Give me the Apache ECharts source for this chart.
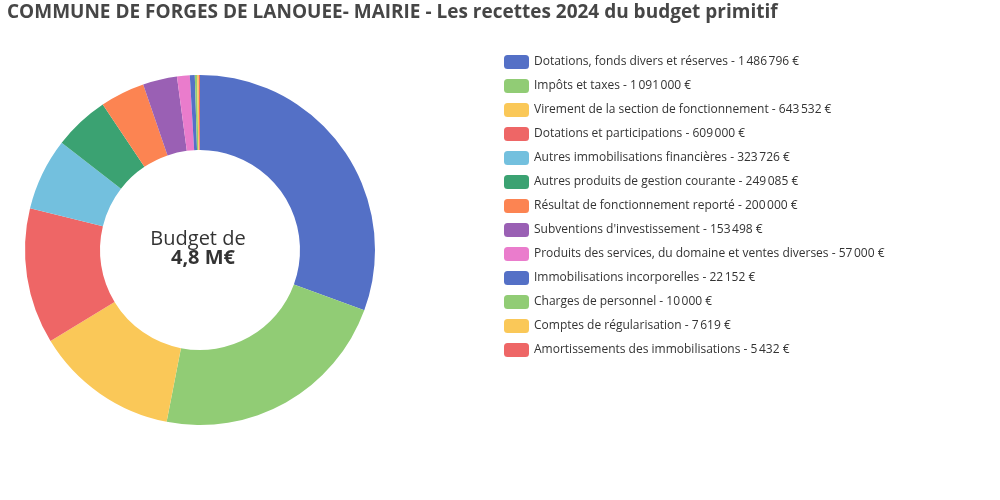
<!DOCTYPE html>
<html>
<head>
<meta charset="utf-8">
<script src="https://cdn.jsdelivr.net/npm/echarts@6/dist/echarts.min.js"></script>
<style>
  html, body { margin: 0; padding: 0; background: #fff; }
  #chart { width: 1000px; height: 500px; }
</style>
</head>
<body>
<div id="chart"></div>
<script>
const chartTitle = 'COMMUNE DE FORGES DE LANOUEE- MAIRIE - Les recettes 2024 du budget primitif'
const categories = [
    'Dotations, fonds divers et réserves',
    'Impôts et taxes',
    'Virement de la section de fonctionnement',
    'Dotations et participations',
    'Autres immobilisations financières',
    'Autres produits de gestion courante',
    'Résultat de fonctionnement reporté',
    "Subventions d'investissement",
    'Produits des services, du domaine et ventes diverses',
    'Immobilisations incorporelles',
    'Charges de personnel',
    'Comptes de régularisation',
    'Amortissements des immobilisations'
]
const values = [1486796, 1091000, 643532, 609000, 323726, 249085, 200000, 153498, 57000, 22152, 10000, 7619, 5432]
const centerLine1 = 'Budget de'
const centerLine2 = '4,8 M€'

const palette = ['#5470c6', '#91cc75', '#fac858', '#ee6666', '#73c0de', '#3ba272', '#fc8452', '#9a60b4', '#ea7ccc']
const font = "'Open Sans', sans-serif"

// séparateur de milliers : espace fine insécable
const formatEuro = (v) => String(v).replace(/\B(?=(\d{3})+(?!\d))/g, '\u202f') + ' €'

const pieData = categories.map((name, i) => ({ name: name, value: values[i] }))

const chart = echarts.init(document.getElementById('chart'))
const options = {
    color: palette,
    textStyle: { fontFamily: font },
    title: {
        text: chartTitle,
        left: 2,
        top: -2,
        textStyle: { fontSize: 19, fontWeight: 'bold', color: '#464646', fontFamily: font }
    },
    legend: {
        orient: 'vertical',
        left: 499,
        top: 50,
        itemWidth: 25,
        itemHeight: 14,
        itemGap: 10,
        textStyle: { fontSize: 12, color: '#333', fontFamily: font },
        formatter: (name) => name + ' - ' + formatEuro(values[categories.indexOf(name)])
    },
    graphic: [
        {
            type: 'text',
            style: {
                text: centerLine1,
                x: 198,
                y: 239,
                align: 'center',
                verticalAlign: 'middle',
                fontSize: 20,
                fill: '#333',
                fontFamily: font
            }
        },
        {
            type: 'text',
            style: {
                text: centerLine2,
                x: 203,
                y: 258,
                align: 'center',
                verticalAlign: 'middle',
                fontSize: 20,
                fontWeight: 'bold',
                fill: '#333',
                fontFamily: font
            }
        }
    ],
    series: [
        {
            name: 'Recettes',
            type: 'pie',
            center: [200, 250],
            radius: [100, 175],
            startAngle: 90,
            label: { show: false },
            labelLine: { show: false },
            data: pieData
        }
    ]
}
chart.setOption(options)
</script>
</body>
</html>
